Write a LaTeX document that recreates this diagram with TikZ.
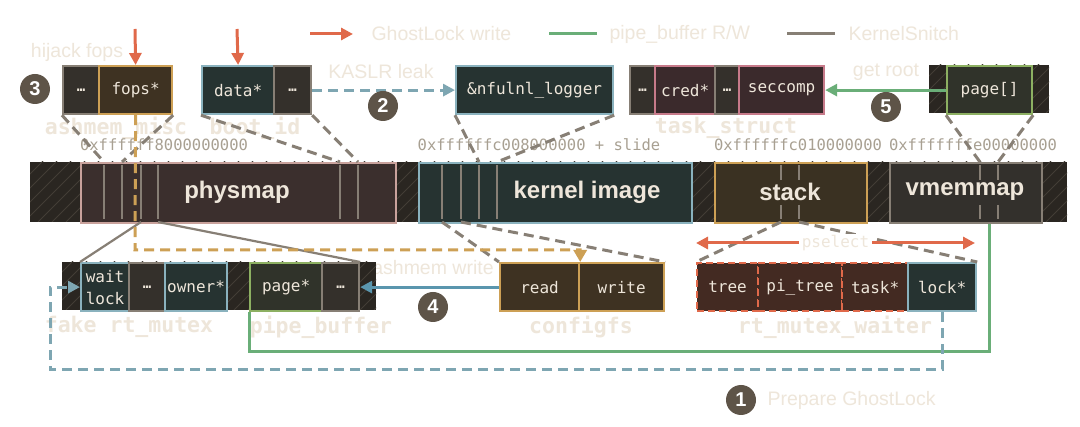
\documentclass[tikz,border=0pt]{standalone}
\usepackage{fontspec}
\setmainfont{Liberation Sans}
\newfontfamily\monof{DejaVu Sans Mono}
\usetikzlibrary{arrows.meta}
\definecolor{lbeige}{HTML}{EEE6DA}
\definecolor{kgray}{HTML}{877F75}
\definecolor{gorange}{HTML}{E0694A}
\definecolor{pgreen}{HTML}{6AAE78}
\definecolor{bgreen}{HTML}{8DB062}
\definecolor{tealb}{HTML}{8AB2BE}
\definecolor{tealdk}{HTML}{5A96AE}
\definecolor{tealds}{HTML}{7EA6B2}
\definecolor{goldb}{HTML}{CDA055}
\definecolor{pinkb}{HTML}{C77A8A}
\definecolor{physb}{HTML}{C9A29C}
\definecolor{circf}{HTML}{5E5448}
\definecolor{addrc}{HTML}{A8A092}
\definecolor{hbg}{HTML}{2A2621}
\definecolor{hln}{HTML}{433D36}
\definecolor{fdots}{HTML}{34302B}
\definecolor{fgold}{HTML}{3E3222}
\definecolor{fteal}{HTML}{263331}
\definecolor{fpink}{HTML}{3B2A2C}
\definecolor{fgreen}{HTML}{30332A}
\definecolor{fphys}{HTML}{3B2F2D}
\definecolor{fstack}{HTML}{3A3122}
\definecolor{fvmm}{HTML}{33302C}
\definecolor{forange}{HTML}{432A22}
\newcommand{\hatchrect}[4]{%
  \fill[hbg] (#1,#2) rectangle (#3,#4);
  \begin{scope}
    \clip (#1,#2) rectangle (#3,#4);
    \foreach \hx in {-60,-46,...,1100} {\draw[hln, line width=1pt] (\hx,#4) -- ++(70,-70);}
  \end{scope}}
\tikzset{
  mbox/.style={draw, line width=2.2pt, inner sep=0pt, minimum height=48pt, anchor=north west, text=lbeige, font=\monof\fontsize{16}{20}\selectfont},
  dotsbox/.style={mbox, draw=kgray, fill=fdots, font=\monof\bfseries\fontsize{14}{14}\selectfont},
  tealbox/.style={mbox, draw=tealb, fill=fteal},
  goldbox/.style={mbox, draw=goldb, fill=fgold},
  pinkbox/.style={mbox, draw=pinkb, fill=fpink},
  greenbox/.style={mbox, draw=bgreen, fill=fgreen},
  orbox/.style={mbox, draw=gorange, fill=forange, dash pattern=on 7pt off 4pt},
  bandbox/.style={draw, line width=2.2pt, inner sep=0pt, minimum height=60pt, anchor=north west, text=lbeige, font=\bfseries\fontsize{24}{28}\selectfont},
  slabel/.style={text=lbeige, font=\monof\bfseries\fontsize{21.5}{24}\selectfont},
  addr/.style={text=addrc, font=\monof\fontsize{15.5}{18}\selectfont},
  note/.style={text=lbeige, font=\fontsize{19.5}{22}\selectfont},
  num/.style={circle, fill=circf, minimum size=30pt, inner sep=0pt, text=white, font=\bfseries\fontsize{20}{20}\selectfont},
  kdash/.style={draw=kgray, line width=3pt, dash pattern=on 10pt off 6pt},
  ksolid/.style={draw=kgray, line width=2.2pt},
  vline/.style={draw=kgray, line width=1.8pt},
  garr/.style={draw=gorange, line width=3pt},
  gline/.style={draw=pgreen, line width=3pt},
  tdash/.style={draw=tealds, line width=3pt, dash pattern=on 10pt off 6pt},
  gdash/.style={draw=goldb, line width=3pt, dash pattern=on 10pt off 6pt},
  tip/.style={-{Triangle[length=12pt,width=12pt]}},
}
\begin{document}
\begin{tikzpicture}[x=1pt,y=-1pt]
\useasboundingbox (0,0) rectangle (1080,427);
\fill[white] (0,0) rectangle (1080,427);

% background labels
\node[slabel] (lam) at (116,128) {ashmem\_misc};
\node[slabel] (lbi) at (255,128) {boot\_id};
\node[slabel] (lts) at (726,128) {task\_struct};
\node[slabel] (lfr) at (129,327) {fake rt\_mutex};
\node[slabel] (lpb) at (321,327) {pipe\_buffer};
\node[slabel] (lcf) at (581,327) {configfs};
\node[slabel] (lrw) at (835,327) {rt\_mutex\_waiter};

\node[addr] (a1) at (164,145) {0xffffff8000000000};
\node[addr] (a2) at (539,145) {0xffffffc008000000 + slide};
\node[addr] (a3) at (798,145) {0xffffffc010000000};
\node[addr] (a4) at (973,145) {0xfffffffe00000000};

\node[note] (nhj) at (77,52) {hijack fops};
\node[note] (nkl) at (381,72) {KASLR leak};
\node[note] (ngr) at (886,72) {get root};
\node[note] (naw) at (433,268) {ashmem write};

% hatched regions
\hatchrect{30}{162}{1067}{222}
\hatchrect{929}{65}{1049}{113}
\hatchrect{62}{262}{376}{310}

% top row
\node[dotsbox, minimum width=36pt] (amd) at (62,65) {…};
\node[goldbox, minimum width=73pt] (amf) at (98,65) {fops*};
\node[tealbox, minimum width=72pt] (bid) at (201,65) {data*};
\node[dotsbox, minimum width=37pt] (bio) at (273,65) {…};
\node[tealbox, minimum width=157pt] (nf) at (455,65) {\&nfulnl\_logger};
\node[dotsbox, minimum width=25pt] (tsa) at (629,65) {…};
\node[pinkbox, minimum width=60pt] (tsc) at (654,65) {cred*};
\node[dotsbox, minimum width=24pt] (tsb) at (714,65) {…};
\node[pinkbox, minimum width=85pt] (tss) at (738,65) {seccomp};
\node[greenbox, minimum width=85pt] (pg) at (946,65) {page[]};

% memory band
\node[bandbox, draw=physb, fill=fphys, minimum width=315pt] (phys) at (80,162) {};
\node[bandbox, draw=tealb, fill=fteal, minimum width=273pt] (kimg) at (418,162) {};
\node[bandbox, draw=goldb, fill=fstack, minimum width=152pt] (stk) at (714,162) {};
\node[bandbox, draw=kgray, fill=fvmm, minimum width=152pt] (vmm) at (889,162) {};
\foreach \vx in {104,122,141,158,340,358,442,461,479,497} {\draw[vline] (\vx,165) -- (\vx,219);}
\foreach \vx in {781,799,980,998} {\draw[vline] (\vx,165) -- (\vx,180); \draw[vline] (\vx,205) -- (\vx,219);}
\node[text=lbeige, font=\bfseries\fontsize{24}{28}\selectfont] (tphys) at (237,192) {physmap};
\node[text=lbeige, font=\bfseries\fontsize{24}{28}\selectfont] (tkimg) at (587,192) {kernel image};
\node[text=lbeige, font=\bfseries\fontsize{24}{28}\selectfont] (tstk) at (790,192) {stack};
\node[text=lbeige, font=\bfseries\fontsize{24}{28}\selectfont] (tvmm) at (965,192) {vmemmap};

\coordinate (pAt) at (104,162); \coordinate (pBt) at (122,162);
\coordinate (pEt) at (340,162); \coordinate (pFt) at (358,162);
\coordinate (kCt) at (479,162); \coordinate (kDt) at (497,162);
\coordinate (vAt) at (980,162); \coordinate (vBt) at (998,162);
\coordinate (pCb) at (141,222); \coordinate (pDb) at (158,222);
\coordinate (kAb) at (442,222); \coordinate (kBb) at (461,222);
\coordinate (sAb) at (781,222); \coordinate (sBb) at (799,222);

% bottom row
\node[tealbox, minimum width=48pt, align=center, font=\monof\fontsize{16}{22}\selectfont] (wl) at (80,262) {wait\\lock};
\node[dotsbox, minimum width=36pt] (frd) at (128,262) {…};
\node[tealbox, minimum width=62pt] (own) at (164,262) {owner*};
\node[greenbox, minimum width=72pt] (pbp) at (249,262) {page*};
\node[dotsbox, minimum width=37pt] (pbd) at (321,262) {…};
\node[goldbox, minimum width=79pt] (rd) at (499,262) {read};
\node[goldbox, minimum width=85pt] (wr) at (578,262) {write};
\node[orbox, minimum width=61pt] (tr) at (696,262) {tree};
\node[orbox, minimum width=84pt] (pit) at (757,262) {pi\_tree};
\node[orbox, minimum width=66pt] (tk) at (841,262) {task*};
\node[tealbox, minimum width=68pt] (lk) at (907,262) {lock*};

% KernelSnitch connectors
\draw[kdash] (amd.south west) -- (pAt);
\draw[kdash] (amf.south east) -- (pBt);
\draw[kdash] (bid.south west) -- (pEt);
\draw[kdash] (bio.south east) -- (pFt);
\draw[kdash] (nf.south west) -- (kCt);
\draw[kdash] (nf.south east) -- (kDt);
\draw[kdash] (pg.south west) -- (vAt);
\draw[kdash] (pg.south east) -- (vBt);
\draw[kdash] (kAb) -- (rd.north west);
\draw[kdash] (kBb) -- (wr.north east);
\draw[kdash] (sAb) -- (tr.north west);
\draw[kdash] (sBb) -- (lk.north east);
\draw[ksolid] (pCb) -- (wl.north west);
\draw[ksolid] (pDb) -- (pbd.north east);

% GhostLock writes
\coordinate (r1) at (135,29);
\coordinate (r2) at (237,29);
\draw[garr, tip] (r1) -- (amf.north);
\draw[garr, tip] (r2) -- (bid.north);

% gold dashed
\coordinate (gc) at (135,250);
\draw[gdash, -{Triangle[length=12pt,width=13pt]}] (amf.south) -- (gc) -| (rd.north east);

% pipe_buffer R/W
\coordinate (gr1) at (989,352);
\draw[gline] (vmm.south -| gr1) -- (gr1) -| (pbp.south west);
\draw[gline, tip] (pg.west) -- (tss.east);

% teal
\draw[tdash, tip] (bio.east) -- (nf.west);
\coordinate (tc1) at (50,370);
\draw[tdash, tip] (lk.south) |- (tc1) |- (wl.west);
\draw[draw=tealdk, line width=3pt, tip] (rd.west) -- (pbd.east);

% pselect
\coordinate (ps1) at (696,243);
\coordinate (ps2) at (975,243);
\draw[garr, {Triangle[length=12pt,width=12pt]}-{Triangle[length=12pt,width=12pt]}] (ps1) -- (ps2)
  node[midway, fill=white, inner xsep=3pt, inner ysep=1pt, text=lbeige, font=\monof\fontsize{16}{18}\selectfont] (psl) {pselect};

% numbers
\node[num] (c3) at (35,89) {3};
\node[num] (c2) at (383,106) {2};
\node[num] (c5) at (886,107) {5};
\node[num] (c4) at (433,307) {4};
\node[num] (c1) at (741,400) {1};
\node[note, anchor=west] (tpg) at (764,400) {Prepare GhostLock};

% legend
\coordinate (l1a) at (310,34); \coordinate (l1b) at (353,34);
\draw[garr, tip] (l1a) -- (l1b);
\node[note, anchor=west] (lg1) at (368,34) {GhostLock write};
\coordinate (l2a) at (549,34); \coordinate (l2b) at (597,34);
\draw[gline] (l2a) -- (l2b);
\node[note, anchor=west] (lg2) at (606,34) {pipe\_buffer R/W};
\coordinate (l3a) at (787,34); \coordinate (l3b) at (835,34);
\draw[draw=kgray, line width=3pt] (l3a) -- (l3b);
\node[note, anchor=west] (lg3) at (845,34) {KernelSnitch};
\end{tikzpicture}
\end{document}
